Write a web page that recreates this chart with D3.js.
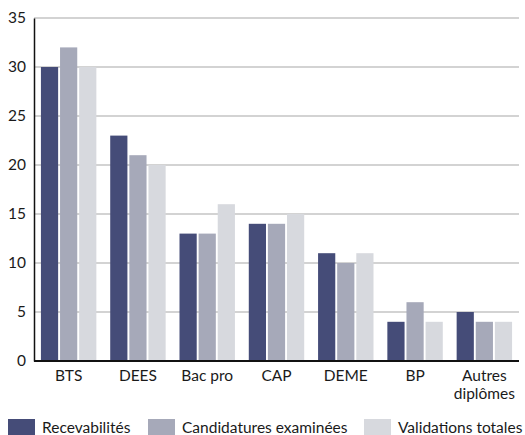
<!DOCTYPE html>
<html>
<head>
<meta charset="utf-8">
<script src="https://cdn.jsdelivr.net/npm/d3@7"></script>
<style>
  body { margin: 0; background: #fff; overflow: hidden; }
  text { font-family: Lato, "Noto Sans", sans-serif; fill: #1a1a1a; }
</style>
</head>
<body>
<div id="chart"></div>
<script>
// Data.
var categories = ["BTS", "DEES", "Bac pro", "CAP", "DEME", "BP", "Autres diplômes"];
var categoryLines = [["BTS"], ["DEES"], ["Bac pro"], ["CAP"], ["DEME"], ["BP"], ["Autres", "diplômes"]];
var series = ["Recevabilités", "Candidatures examinées", "Validations totales"];
var recevabilites = [30, 23, 13, 14, 11, 4, 5];
var candidatures = [32, 21, 13, 14, 10, 6, 4];
var validations = [30, 20, 16, 15, 11, 4, 4];
var yTicks = [0, 5, 10, 15, 20, 25, 30, 35];
var colors = ["#454c78", "#a6a9b9", "#d7d9de"];

var values = [recevabilites, candidatures, validations];

// Dimensions.
var width = 525, height = 435;
var margin = {top: 18, right: 6, bottom: 74, left: 34};

var svg = d3.select("#chart")
    .append("svg")
    .attr("width", width)
    .attr("height", height);

// Scales.
var x0 = d3.scaleBand()
    .domain(categories)
    .range([margin.left, width - margin.right])
    .paddingInner(0.2)
    .paddingOuter(0.1);

var x1 = d3.scaleBand()
    .domain(d3.range(series.length))
    .range([0, x0.bandwidth()])
    .paddingInner(0.1);

var y = d3.scaleLinear()
    .domain([0, 35])
    .range([height - margin.bottom, margin.top]);

// Gridlines.
svg.append("g")
    .selectAll("line")
    .data(yTicks.slice(1))
    .join("line")
    .attr("x1", margin.left)
    .attr("x2", width - margin.right)
    .attr("y1", function(d) { return y(d); })
    .attr("y2", function(d) { return y(d); })
    .attr("stroke", "#c4c4c4")
    .attr("stroke-width", 1.5);

// Bars.
svg.append("g")
    .selectAll("g")
    .data(categories)
    .join("g")
    .attr("transform", function(d) { return "translate(" + x0(d) + ",0)"; })
    .selectAll("rect")
    .data(function(d, i) { return values.map(function(v, s) { return {s: s, v: v[i]}; }); })
    .join("rect")
    .attr("x", function(d) { return x1(d.s); })
    .attr("width", x1.bandwidth())
    .attr("y", function(d) { return y(d.v); })
    .attr("height", function(d) { return y(0) - y(d.v); })
    .attr("fill", function(d) { return colors[d.s]; });

// Y axis.
var yAxis = svg.append("g")
    .attr("transform", "translate(" + margin.left + ",0)")
    .call(d3.axisLeft(y).tickValues(yTicks).tickSize(0).tickPadding(8));
yAxis.select(".domain").attr("stroke", "#111").attr("stroke-width", 1.5);
yAxis.selectAll("text").style("font-size", "15.5px").attr("fill", "#1a1a1a");

// X axis.
var xAxis = svg.append("g")
    .attr("transform", "translate(0," + y(0) + ")")
    .call(d3.axisBottom(x0).tickSize(0).tickPadding(0));
xAxis.select(".domain").remove();
xAxis.append("line")
    .attr("x1", margin.left)
    .attr("x2", width - margin.right)
    .attr("stroke", "#111")
    .attr("stroke-width", 2);
xAxis.selectAll(".tick text").each(function(d, i) {
    var t = d3.select(this).text("").attr("y", 20).style("font-size", "15.5px").attr("fill", "#1a1a1a");
    categoryLines[i].forEach(function(w, j) {
        t.append("tspan").attr("x", 0).attr("dy", j ? 17.5 : 0).text(w);
    });
});

// Legend.
var legendX = [8, 148, 364];
var legend = svg.append("g")
    .selectAll("g")
    .data(series)
    .join("g")
    .attr("transform", function(d, i) { return "translate(" + legendX[i] + ",419)"; });
legend.append("rect")
    .attr("width", 27)
    .attr("height", 17)
    .attr("fill", function(d, i) { return colors[i]; });
legend.append("text")
    .attr("x", 34)
    .attr("y", 14)
    .style("font-size", "15.5px")
    .text(function(d) { return d; });
</script>
</body>
</html>
